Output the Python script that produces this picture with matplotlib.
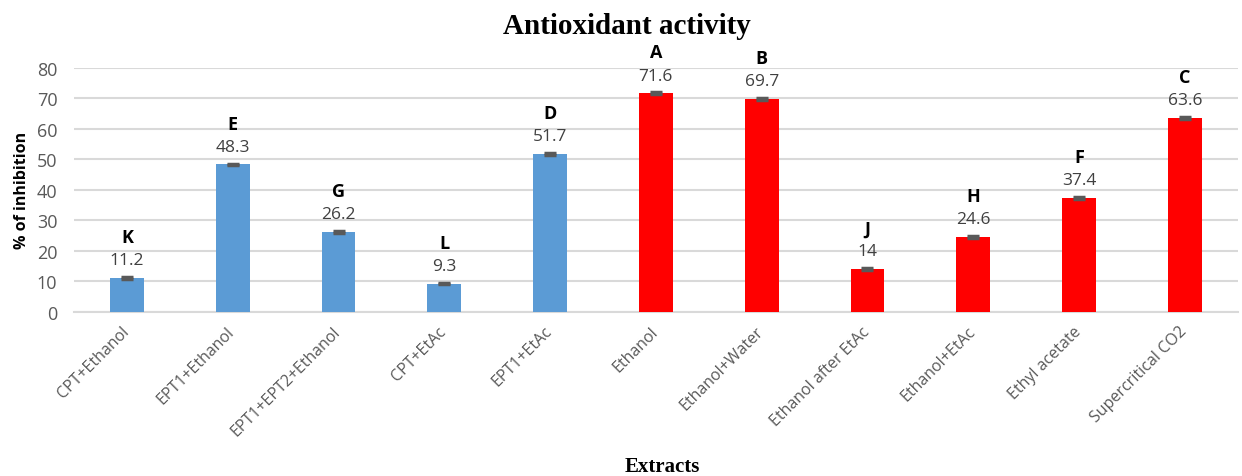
import matplotlib
matplotlib.use("Agg")
import matplotlib.pyplot as plt
import matplotlib.transforms as mtransforms
import numpy as np

categories = ["CPT+Ethanol", "EPT1+Ethanol", "EPT1+EPT2+Ethanol", "CPT+EtAc", "EPT1+EtAc",
              "Ethanol", "Ethanol+Water", "Ethanol after EtAc", "Ethanol+EtAc", "Ethyl acetate",
              "Supercritical CO2"]
values = [11.2, 48.3, 26.2, 9.3, 51.7, 71.6, 69.7, 14, 24.6, 37.4, 63.6]
value_labels = ["11.2", "48.3", "26.2", "9.3", "51.7", "71.6", "69.7", "14", "24.6", "37.4", "63.6"]
errors = [0.3, 0.3, 0.3, 0.3, 0.3, 0.3, 0.3, 0.3, 0.3, 0.3, 0.3]
letters = ["K", "E", "G", "L", "D", "A", "B", "J", "H", "F", "C"]
groups = ["blue"] * 5 + ["red"] * 6
colors_map = {"blue": "#5B9BD5", "red": "#FF0000"}

fig = plt.figure(figsize=(12.42, 4.77), dpi=100)
ax = fig.add_axes([0.0596, 0.344, 0.937, 0.512])

x = np.arange(len(categories))
cols = [colors_map[g] for g in groups]
ax.bar(x, values, width=0.32, color=cols, zorder=3)
ax.errorbar(x, values, yerr=errors, fmt="none", ecolor="#595959", elinewidth=1,
            capsize=4, capthick=2.5, zorder=4)

for xi, v, vl, lt in zip(x, values, value_labels, letters):
    ax.annotate(vl, (xi, v), xytext=(0, 7), textcoords="offset points",
                ha="center", va="bottom", fontsize=12.5, color="#404040", family="Open Sans")
    ax.annotate(lt, (xi, v), xytext=(0, 23), textcoords="offset points",
                ha="center", va="bottom", fontsize=13, color="black",
                fontweight="bold", family="Open Sans")

ax.set_xlim(-0.5, len(categories) - 0.5)
ax.set_ylim(0, 80)
ax.set_yticks(np.arange(0, 81, 10))
ax.yaxis.grid(True, color="#D9D9D9", linewidth=1.5, zorder=0)
ax.set_axisbelow(True)
for s in ["top", "right", "left"]:
    ax.spines[s].set_visible(False)
ax.spines["bottom"].set_color("#D9D9D9")
ax.spines["bottom"].set_linewidth(1.5)
ax.tick_params(axis="both", length=0, colors="#595959", labelsize=13)
ax.tick_params(axis="y", pad=12)
ax.tick_params(axis="x", pad=8)
ax.set_xticks(x)
ax.set_xticklabels(categories, rotation=45, ha="right", rotation_mode="anchor",
                   fontsize=11.5, color="#595959", family="Open Sans")
offset = mtransforms.ScaledTranslation(-6 / 100, 0, fig.dpi_scale_trans)
for lab in ax.get_xticklabels():
    lab.set_transform(lab.get_transform() + offset)
for lab in ax.get_yticklabels():
    lab.set_family("Open Sans")

ax.set_ylabel("% of inhibition", fontsize=11.5, fontweight="bold", family="Open Sans", labelpad=5)
fig.text(0.505, 0.945, "Antioxidant activity", ha="center", va="center", fontsize=21,
         fontweight="bold", family="Liberation Serif")
fig.text(0.533, 0.02, "Extracts", ha="center", va="center", fontsize=15,
         fontweight="bold", family="Liberation Serif")

fig.savefig("out.png", dpi=100)
